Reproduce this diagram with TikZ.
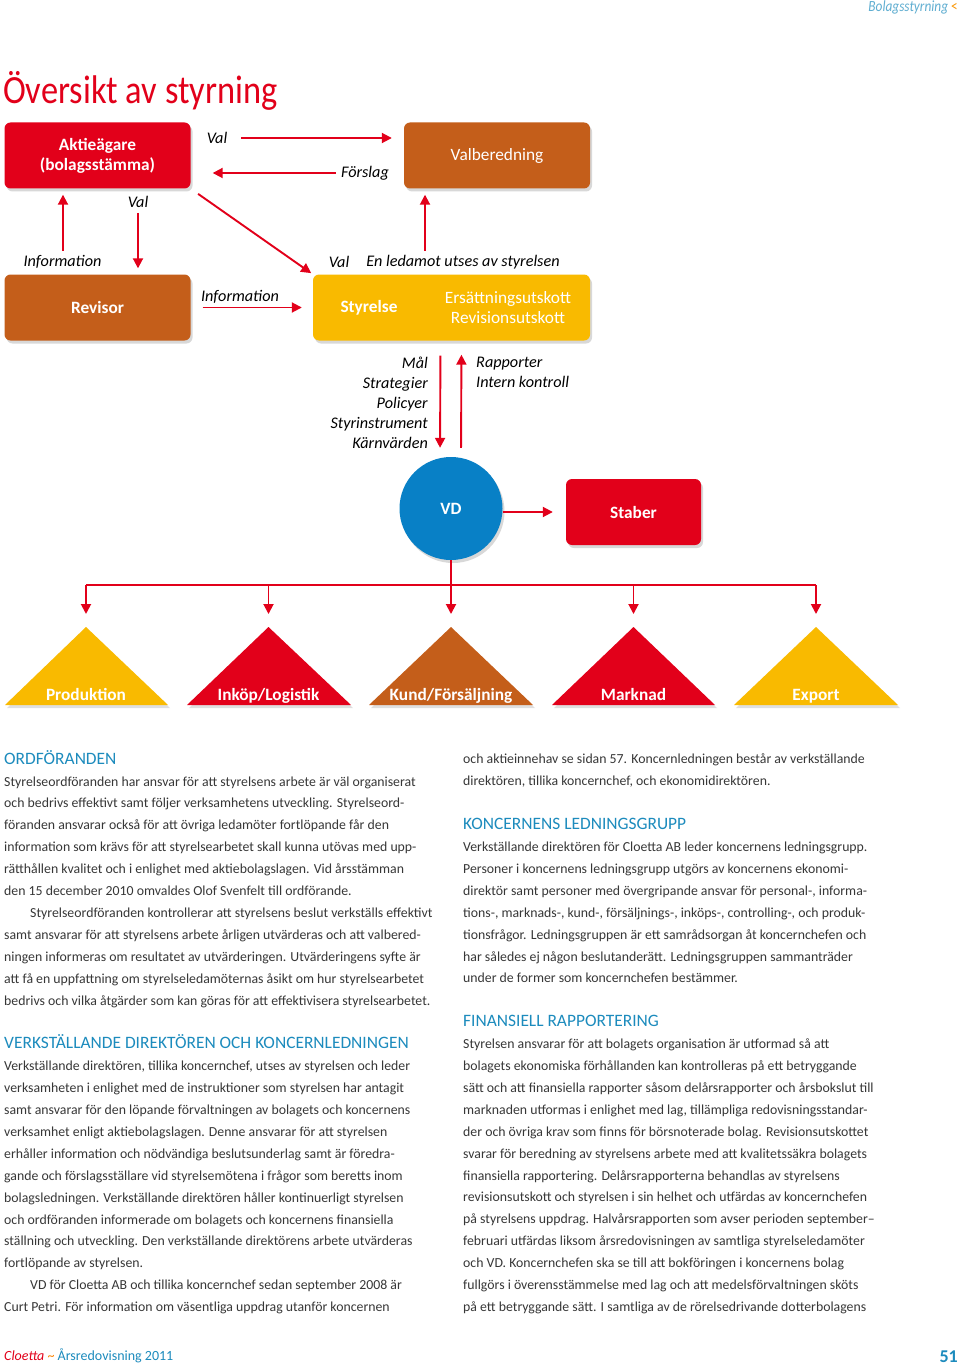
\documentclass[tikz,border=0pt]{standalone}
\usepackage{fontspec}
\setmainfont{Carlito}
\newfontfamily\condfont[FakeStretch=0.86]{Carlito}
\usetikzlibrary{arrows.meta, shadows}

\definecolor{cred}{RGB}{226,0,26}
\definecolor{cbrown}{RGB}{196,94,26}
\definecolor{cyellow}{RGB}{249,186,0}
\definecolor{cblue}{RGB}{8,128,198}
\definecolor{chead}{RGB}{28,139,189}
\definecolor{ctext}{RGB}{55,55,55}

\tikzstyle{box} = [rectangle, rounded corners=6pt, minimum width=186pt, minimum height=66pt, align=center, text=white, drop shadow={opacity=0.3, shadow xshift=2pt, shadow yshift=-3pt}]
\tikzstyle{boxtext} = [font=\fontsize{17.3}{20}\selectfont\bfseries]
\tikzstyle{lbl} = [font=\fontsize{16.2}{20}\selectfont\itshape, inner sep=0pt]
\tikzstyle{edge} = [line width=1.9pt, cred, -{Triangle[length=10pt, width=10pt]}]
\tikzstyle{tri} = [drop shadow={opacity=0.25, shadow xshift=2pt, shadow yshift=-3pt}]
\tikzstyle{trilabel} = [anchor=base, text=white, font=\fontsize{17.3}{20}\selectfont\bfseries]
\tikzstyle{column} = [anchor=north west, align=left, inner sep=0pt, text=ctext, font=\fontsize{13.8}{21.9}\selectfont]

\newcommand{\colhead}[1]{{\color{chead}\fontsize{17.4}{21.9}\selectfont #1}}

\begin{document}
\begin{tikzpicture}[x=1pt, y=-1pt]
\useasboundingbox[fill=white] (0,0) rectangle (960,1364);

% header and title
\node (hdr) [anchor=east, inner sep=0pt, font=\condfont\fontsize{15.5}{17}\selectfont\itshape] at (958,7) {\color{chead!70}Bolagsstyrning \color{cyellow!80!red}\upshape<};
\node (title) [anchor=base west, inner sep=0pt, text=cred, font=\condfont\fontsize{40}{44}\selectfont] at (3,104) {Översikt av styrning};

% boxes
\node (akt) [box, fill=cred, boxtext] at (97.5,155.5) {Aktieägare\\(bolagsstämma)};
\node (valb) [box, fill=cbrown, font=\fontsize{17.3}{20}\selectfont] at (497,155.5) {Valberedning};
\node (rev) [box, fill=cbrown, boxtext] at (97.5,307.5) {Revisor};
\node (sty) [box, fill=cyellow, minimum width=277pt] at (451.5,307.5) {};
\node (styname) [boxtext, text=white] at (369,308) {Styrelse};
\node (utskott) [text=white, align=center, font=\fontsize{17.3}{20}\selectfont] at (508,308) {Ersättningsutskott\\Revisionsutskott};
\node (vd) [circle, fill=cblue, minimum size=103pt, text=white, boxtext, drop shadow={opacity=0.3, shadow xshift=2pt, shadow yshift=-3pt}] at (451,508.5) {VD};
\node (staber) [box, fill=cred, minimum width=135pt, boxtext] at (633.5,512) {Staber};

% labels
\node (val1) [lbl] at (217,138) {Val};
\node (forslag) [lbl] at (365,173) {Förslag};
\node (val2) [lbl] at (138,202) {Val};
\node (info1) [lbl] at (62.5,262) {Information};
\node (val3) [lbl] at (339,262) {Val};
\node (ledamot) [lbl] at (463,262) {En ledamot utses av styrelsen};
\node (info2) [lbl] at (240,297) {Information};
\node (mal) [lbl, anchor=north east, align=right, font=\fontsize{16.2}{20}\selectfont\itshape] at (428,357) {Mål\\Strategier\\Policyer\\Styrinstrument\\Kärnvärden};
\node (rapp) [lbl, anchor=north west, align=left, font=\fontsize{16.2}{20}\selectfont\itshape] at (476,357) {Rapporter\\Intern kontroll};

\coordinate (up1) at (63,251);
\coordinate (up2) at (425,251);
\coordinate (bar) at (451,585);

% arrows
\draw [edge, shorten <=14pt, shorten >=12pt] (val1.east) -- (val1.east -| valb.west);
\draw [edge, shorten <=5pt, shorten >=22pt] (forslag.west) -- (forslag.west -| akt.east);
\draw [edge, shorten <=5pt, shorten >=6pt] (val2.south) -- (val2.south |- rev.north);
\draw [edge, shorten >=6pt] (up1) -- (up1 |- akt.south);
\draw [edge, shorten >=6pt] (up2) -- (up2 |- valb.south);
\draw [edge, shorten <=9pt, shorten >=2pt] (akt.south east) -- (sty.north west);
\draw [edge, shorten <=12pt, shorten >=11pt] (rev.east) -- (sty.west);
\draw [edge, shorten <=15pt, shorten >=9pt] ([xshift=-11pt]sty.south) -- ([xshift=-11pt]vd.north);
\draw [edge, shorten <=9pt, shorten >=14pt] ([xshift=10pt]vd.north) -- ([xshift=10pt]sty.south);
\draw [edge, shorten >=13pt] (vd.east |- staber.west) -- (staber.west);

% tree
\draw [line width=1.9pt, cred] (vd.south) -- (bar);
\draw [line width=1.9pt, cred] (86,585) -- (816,585);

% departments
\fill [tri, cyellow] (5,705) -- (86,627) -- (168,705) -- cycle;
\fill [tri, cred] (187,705) -- (268.5,627) -- (351,705) -- cycle;
\fill [tri, cbrown] (369,705) -- (451,627) -- (533,705) -- cycle;
\fill [tri, cred] (552,705) -- (633.5,627) -- (715,705) -- cycle;
\fill [tri, cyellow] (734,705) -- (816,627) -- (898,705) -- cycle;
\coordinate (ap1) at (86,627);
\coordinate (ap2) at (268.5,627);
\coordinate (ap3) at (451,627);
\coordinate (ap4) at (633.5,627);
\coordinate (ap5) at (816,627);
\node (prod) [trilabel] at (86,700) {Produktion};
\node (ink) [trilabel] at (268.5,700) {Inköp/Logistik};
\node (kund) [trilabel] at (451,700) {Kund/Försäljning};
\node (mark) [trilabel] at (633.5,700) {Marknad};
\node (exp) [trilabel] at (816,700) {Export};

\draw [edge, shorten >=13pt] (ap1 |- bar) -- (ap1);
\draw [edge, shorten >=13pt] (ap2 |- bar) -- (ap2);
\draw [edge, shorten >=13pt] (ap3 |- bar) -- (ap3);
\draw [edge, shorten >=13pt] (ap4 |- bar) -- (ap4);
\draw [edge, shorten >=13pt] (ap5 |- bar) -- (ap5);

% text columns
\node (col1) [column] at (4,750) {%
\colhead{ORDFÖRANDEN}\\
Styrelseordföranden har ansvar för att styrelsens arbete är väl organiserat\\
och bedrivs effektivt samt följer verksamhetens utveckling. Styrelseord-\\
föranden ansvarar också för att övriga ledamöter fortlöpande får den\\
information som krävs för att styrelsearbetet skall kunna utövas med upp-\\
rätthållen kvalitet och i enlighet med aktiebolagslagen. Vid årsstämman\\
den 15 december 2010 omvaldes Olof Svenfelt till ordförande.\\
\hspace*{26pt}Styrelseordföranden kontrollerar att styrelsens beslut verkställs effektivt\\
samt ansvarar för att styrelsens arbete årligen utvärderas och att valbered-\\
ningen informeras om resultatet av utvärderingen. Utvärderingens syfte är\\
att få en uppfattning om styrelseledamöternas åsikt om hur styrelsearbetet\\
bedrivs och vilka åtgärder som kan göras för att effektivisera styrelsearbetet.\\
\mbox{}\\
\colhead{VERKSTÄLLANDE DIREKTÖREN OCH KONCERNLEDNINGEN}\\
Verkställande direktören, tillika koncernchef, utses av styrelsen och leder\\
verksamheten i enlighet med de instruktioner som styrelsen har antagit\\
samt ansvarar för den löpande förvaltningen av bolagets och koncernens\\
verksamhet enligt aktiebolagslagen. Denne ansvarar för att styrelsen\\
erhåller information och nödvändiga beslutsunderlag samt är föredra-\\
gande och förslagsställare vid styrelsemötena i frågor som beretts inom\\
bolagsledningen. Verkställande direktören håller kontinuerligt styrelsen\\
och ordföranden informerade om bolagets och koncernens finansiella\\
ställning och utveckling. Den verkställande direktörens arbete utvärderas\\
fortlöpande av styrelsen.\\
\hspace*{26pt}VD för Cloetta AB och tillika koncernchef sedan september 2008 är\\
Curt Petri. För information om väsentliga uppdrag utanför koncernen};

\node (col2) [column] at (463,754) {%
och aktieinnehav se sidan 57. Koncernledningen består av verkställande\\
direktören, tillika koncernchef, och ekonomidirektören.\\
\mbox{}\\
\colhead{KONCERNENS LEDNINGSGRUPP}\\
Verkställande direktören för Cloetta AB leder koncernens ledningsgrupp.\\
Personer i koncernens ledningsgrupp utgörs av koncernens ekonomi-\\
direktör samt personer med övergripande ansvar för personal-, informa-\\
tions-, marknads-, kund-, försäljnings-, inköps-, controlling-, och produk-\\
tionsfrågor. Ledningsgruppen är ett samrådsorgan åt koncernchefen och\\
har således ej någon beslutanderätt. Ledningsgruppen sammanträder\\
under de former som koncernchefen bestämmer.\\
\mbox{}\\
\colhead{FINANSIELL RAPPORTERING}\\
Styrelsen ansvarar för att bolagets organisation är utformad så att\\
bolagets ekonomiska förhållanden kan kontrolleras på ett betryggande\\
sätt och att finansiella rapporter såsom delårsrapporter och årsbokslut till\\
marknaden utformas i enlighet med lag, tillämpliga redovisningsstandar-\\
der och övriga krav som finns för börsnoterade bolag. Revisionsutskottet\\
svarar för beredning av styrelsens arbete med att kvalitetssäkra bolagets\\
finansiella rapportering. Delårsrapporterna behandlas av styrelsens\\
revisionsutskott och styrelsen i sin helhet och utfärdas av koncernchefen\\
på styrelsens uppdrag. Halvårsrapporten som avser perioden september–\\
februari utfärdas liksom årsredovisningen av samtliga styrelseledamöter\\
och VD. Koncernchefen ska se till att bokföringen i koncernens bolag\\
fullgörs i överensstämmelse med lag och att medelsförvaltningen sköts\\
på ett betryggande sätt. I samtliga av de rörelsedrivande dotterbolagens};

% footer
\node (foot) [anchor=base west, inner sep=0pt, font=\fontsize{14}{16}\selectfont] at (4,1360) {{\color{cred}\itshape Cloetta} {\color{cyellow!70!red}\textasciitilde} {\color{chead}Årsredovisning 2011}};
\node (page) [anchor=base east, inner sep=0pt, text=chead, font=\fontsize{18}{20}\selectfont\bfseries] at (958,1362) {51};

\end{tikzpicture}
\end{document}
